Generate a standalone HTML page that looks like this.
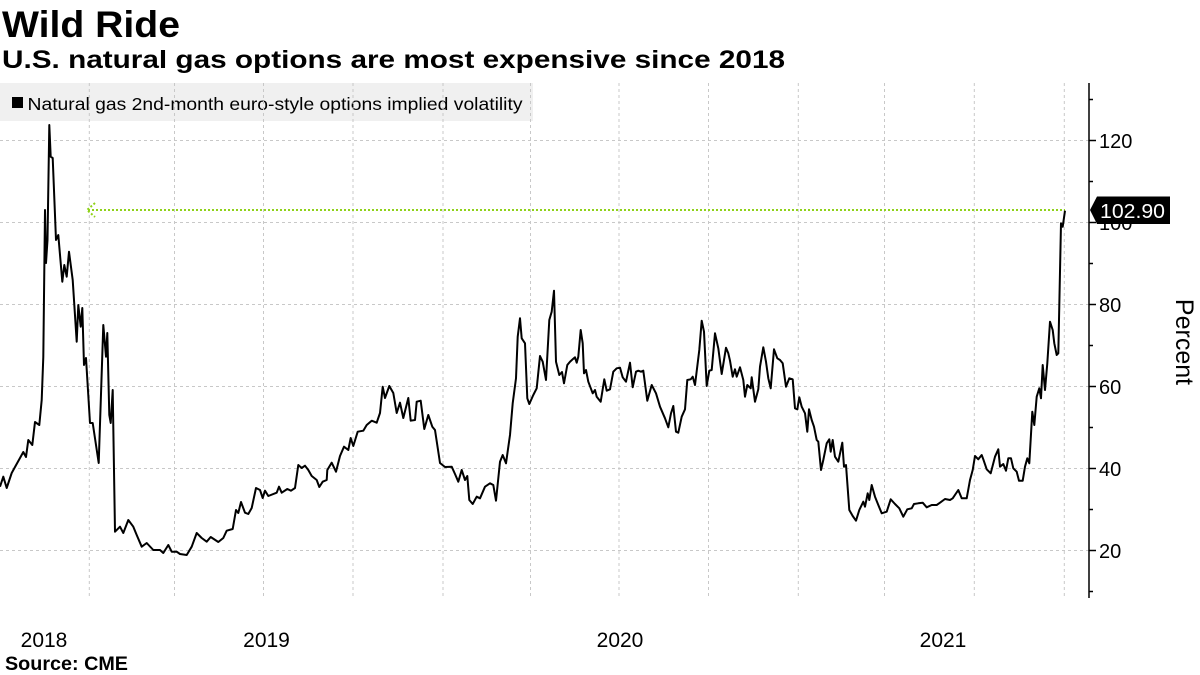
<!DOCTYPE html>
<html>
<head>
<meta charset="utf-8">
<style>
html,body{margin:0;padding:0;background:#fff;}
svg{display:block;}
text{font-family:"Liberation Sans",Arial,sans-serif;}
</style>
</head>
<body>
<svg width="1200" height="675" viewBox="0 0 1200 675" xmlns="http://www.w3.org/2000/svg">
<rect x="0" y="0" width="1200" height="675" fill="#fff"/>
<!-- titles -->
<text x="2" y="37" font-size="37" font-weight="bold" fill="#000" textLength="178" lengthAdjust="spacingAndGlyphs">Wild Ride</text>
<text x="2" y="68" font-size="25" font-weight="bold" fill="#000" textLength="783" lengthAdjust="spacingAndGlyphs">U.S. natural gas options are most expensive since 2018</text>
<!-- legend box -->
<rect x="0" y="83" width="533" height="38" fill="#f0f0f0"/>
<rect x="12" y="97" width="11" height="11" fill="#000"/>
<text x="27.5" y="110" font-size="17.5" fill="#000" textLength="495" lengthAdjust="spacingAndGlyphs">Natural gas 2nd-month euro-style options implied volatility</text>
<!-- gridlines -->
<g stroke="#c8c8c8" stroke-width="1" stroke-dasharray="3,3" fill="none">
<line x1="0" y1="140.5" x2="1089" y2="140.5"/>
<line x1="0" y1="222.5" x2="1089" y2="222.5"/>
<line x1="0" y1="304.5" x2="1089" y2="304.5"/>
<line x1="0" y1="386.5" x2="1089" y2="386.5"/>
<line x1="0" y1="468.5" x2="1089" y2="468.5"/>
<line x1="0" y1="550.5" x2="1089" y2="550.5"/>
<line x1="89.3" y1="83" x2="89.3" y2="598"/>
<line x1="174.5" y1="83" x2="174.5" y2="598"/>
<line x1="263.5" y1="83" x2="263.5" y2="598"/>
<line x1="353" y1="83" x2="353" y2="598"/>
<line x1="443" y1="83" x2="443" y2="598"/>
<line x1="530.5" y1="83" x2="530.5" y2="598"/>
<line x1="619" y1="83" x2="619" y2="598"/>
<line x1="708.5" y1="83" x2="708.5" y2="598"/>
<line x1="798.3" y1="83" x2="798.3" y2="598"/>
<line x1="884.5" y1="83" x2="884.5" y2="598"/>
<line x1="974.3" y1="83" x2="974.3" y2="598"/>
<line x1="1064.3" y1="83" x2="1064.3" y2="598"/>
</g>
<!-- green reference line -->
<g stroke="#8fd21a" stroke-width="2" stroke-dasharray="2,2" fill="none">
<line x1="88" y1="210" x2="1065" y2="210"/>
<polyline points="95,203 87,210 95,217"/>
</g>
<!-- data -->
<polyline fill="none" stroke="#000" stroke-width="2" stroke-linejoin="round" points="0,486.7 3.3,476.7 6.7,488 11.7,473 15,467 20,458 23.3,452 26,457 28.3,440 32.3,445 35,422 39.3,425 41.7,400 43.3,357 45,210 46,263 47.5,240 49.3,125 50.7,156.7 52.7,158 56,240 58.3,235 62.3,281.7 64.3,265 66.7,276.7 69,251.7 72.7,280 76.7,341.7 78.3,305 80.7,326.7 82.3,308 84,365 86,358 90,423 92.7,423 95.7,443 98.7,463 103.3,325 106,356.7 107.3,333 109.3,415 110.7,423 112.7,390 115,531.7 120,526.7 123.3,533 128.3,520 133.3,526.7 136.7,535 141.7,546.7 146.7,543 153.3,550 160,550 163.3,553 168.3,545 171.7,551.7 176.7,551.7 180,554 186.7,555 191.7,546.7 196.7,533 201.7,538 206.7,541.7 210.7,537 218.3,542 223.3,538 226.7,530.7 232.7,529 236,510 238.3,513 241,502 245,512.7 248.3,514 251.7,508 256,488 260,490 262.7,498 265,490.7 268.3,496 276.7,492.7 279,486.7 281.7,492.7 287.3,489 291,490.7 295,488 298.3,465 301.7,468 305,465.7 308.3,470 311.7,476 316.7,480 319.3,487 322.7,481.7 326.7,480 327.3,470 331.7,462.7 336,471.7 340,456 344,446.7 348.3,450 350.7,438 353.3,446 357.7,431.7 363.3,430.7 366.7,425 371.7,420.7 376.7,422.7 380,413 382.7,386.7 385,398 389.3,386 393.3,393 396.7,413 400,402.7 403.3,418 408.3,398 410.7,420.7 415,420 416.7,401.7 420.7,400.7 424.3,429 428.3,415 432.3,426.7 435,430 440,463 445,467 451.7,466.7 455,474 458.3,481.7 461.7,470 465,480 467.3,476 469.3,500 472.7,504 476.7,496.7 480,498.3 485,486.7 490,483.3 493.3,485 496,500.7 500,461.7 502.7,455 506,463.3 510,435 512.7,403.3 516,378.3 517.7,336.7 520,318.3 521.7,338.3 525,343.3 527.3,398.3 529.3,404 533.3,395 536.7,388.3 540,356 542.7,361.7 546,380 549.3,320 551.7,311.7 554,290.7 556,361.7 559.3,375 562,372 564,383.3 567.3,365 570,361.7 572.7,359.3 575,357.3 576.7,362.7 578.3,356.7 580.7,330 582.7,343.3 584,373.3 586,370 588.3,381.7 592.7,393.3 595,390 596.7,396.7 600.7,401.7 604.3,379.3 606.7,390.7 610,389.3 613.3,371.7 616.7,368.3 620,367.7 622.7,377.3 626,381.7 630,362.7 632.7,387.3 636,371.7 638.3,370.7 641,371.7 643.3,370.7 647.3,400.7 651.7,385 656,393.3 660,406.7 665,418.3 668.3,427.3 671,413.3 673.3,406 676,431.7 678.3,432.7 681.7,416.7 685,409.3 687.3,380 690.7,379.3 692.7,376.7 695,385 699.3,350 701.7,320.7 704,331.7 706.7,386 709.3,370.7 711.7,370 715,333.3 718.3,348.3 721.7,374 726,347.7 728.3,353.3 730,360.7 732.7,376.7 735,369.3 736.7,376.7 740,367.3 743.3,380 745,396.7 747.3,385 750.7,388.3 751.7,377.3 755,401.7 758.3,389.3 760,366.7 763.3,347.3 766,361.7 768.3,378.3 770.7,388.3 774,349.3 777.3,358.3 780,360 782.7,363.3 786,386.7 789.3,378.3 792.7,379.3 795,408.3 797.3,409.3 799.3,397.3 801.7,406.7 805,413.3 807.3,431.7 809,409.3 811.7,420 814,426.7 816.7,440 818.3,441.7 821,470 823.3,460 826.7,443.3 829.3,439.3 830.7,451.7 832.7,440 835,456.7 838.3,461.7 842.3,442.7 844,466.7 846,465 849.3,510 852.7,516 856,520.7 859.3,510 863.3,501.7 865,506.7 867.7,493.3 869.3,500 871.7,485 875,496.7 878.3,505 881.7,513.3 886.7,511.7 890.7,499.3 895,504 899.3,508.3 903.3,516.7 907.3,509.3 911.7,508.3 914,504 918.3,503.3 922.7,502.7 926.7,507.3 931.7,505 936.7,505 940,502.7 945,499 950,500 952.7,498.3 958.3,490 961.7,498.3 966.7,498.3 970,480 972.7,470 975,456 978.3,459.3 981.7,455 983.3,459.3 986.7,469.3 990.7,473.3 995,456.7 998.3,449.3 1000,466.7 1003.3,464 1006,470.7 1008.3,458.3 1011,458.3 1013.3,468.3 1016.7,471.7 1019,480.7 1022.7,480.7 1025,466.7 1027.3,458.3 1029.3,463.3 1032.3,411.7 1034.3,425 1036.7,396.7 1039.3,388.3 1041,398.3 1042.7,365 1045,390 1047.3,363.3 1050,321.7 1052.7,330 1054.3,343.3 1056.7,355 1058.3,353.3 1061,223.3 1062.7,226.7 1065,210.7"/>
<!-- right axis -->
<g stroke="#000" stroke-width="1.5" fill="none">
<line x1="1089" y1="83" x2="1089" y2="598"/>
<line x1="1089" y1="140.5" x2="1096" y2="140.5"/>
<line x1="1089" y1="222.5" x2="1096" y2="222.5"/>
<line x1="1089" y1="304.5" x2="1096" y2="304.5"/>
<line x1="1089" y1="386.5" x2="1096" y2="386.5"/>
<line x1="1089" y1="468.5" x2="1096" y2="468.5"/>
<line x1="1089" y1="550.5" x2="1096" y2="550.5"/>
<line x1="1089" y1="99.5" x2="1093" y2="99.5"/>
<line x1="1089" y1="181.5" x2="1093" y2="181.5"/>
<line x1="1089" y1="263.5" x2="1093" y2="263.5"/>
<line x1="1089" y1="345.5" x2="1093" y2="345.5"/>
<line x1="1089" y1="427.5" x2="1093" y2="427.5"/>
<line x1="1089" y1="509.5" x2="1093" y2="509.5"/>
<line x1="1089" y1="591.5" x2="1093" y2="591.5"/>
</g>
<g font-size="20" fill="#000">
<text x="1099" y="148">120</text>
<text x="1099" y="230">100</text>
<text x="1099" y="312">80</text>
<text x="1099" y="394">60</text>
<text x="1099" y="476">40</text>
<text x="1099" y="558">20</text>
</g>
<!-- callout -->
<polygon points="1090,210 1097,196.5 1170,196.5 1170,224 1097,224" fill="#000"/>
<text x="1100" y="218" font-size="20" fill="#fff" textLength="65" lengthAdjust="spacingAndGlyphs">102.90</text>
<!-- Percent -->
<text transform="translate(1176,342) rotate(90)" text-anchor="middle" font-size="25" fill="#000">Percent</text>
<!-- x labels -->
<g font-size="21" fill="#000" text-anchor="middle">
<text x="44" y="647">2018</text>
<text x="266.5" y="647">2019</text>
<text x="620" y="647">2020</text>
<text x="943" y="647">2021</text>
</g>
<text x="5" y="670" font-size="19" font-weight="bold" fill="#000" textLength="123" lengthAdjust="spacingAndGlyphs">Source: CME</text>
</svg>
</body>
</html>
